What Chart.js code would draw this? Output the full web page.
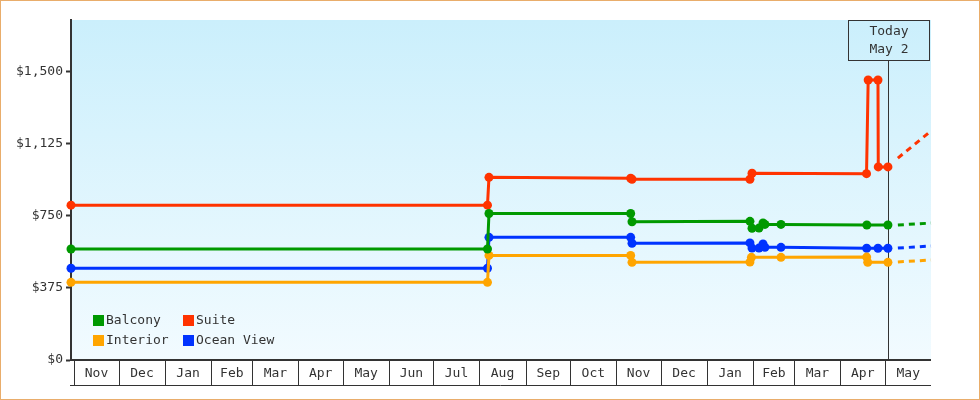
<!DOCTYPE html>
<html>
<head>
<meta charset="utf-8">
<title>Cruise cabin prices</title>
<script src="https://cdn.jsdelivr.net/npm/chart.js@4.4.1/dist/chart.umd.min.js"></script>
<style>
  html, body { margin: 0; padding: 0; background: #fff; }
  canvas { display: block; }
</style>
</head>
<body>
<canvas id="priceChart" width="980" height="400"></canvas>
<script>
// x values are days counted from Nov 1 of the first year
const monthLabels = ['Nov', 'Dec', 'Jan', 'Feb', 'Mar', 'Apr', 'May', 'Jun', 'Jul', 'Aug',
  'Sep', 'Oct', 'Nov', 'Dec', 'Jan', 'Feb', 'Mar', 'Apr', 'May'];
const monthLengths = [30, 31, 31, 28, 31, 30, 31, 30, 31, 31, 30, 31, 30, 31, 31, 28, 31, 30, 31];
const yTicks = [0, 375, 750, 1125, 1500];
const todayDay = 548;
const todayText = ['Today', 'May 2'];

const balconyDays   = [-2, 278.4, 279.4, 374.8, 375.7, 455.1, 456.5, 461.2, 463.9, 465.2, 476, 533.8, 548];
const balconyPrices = [577, 577, 762, 762, 719, 721, 685, 686, 713, 705, 705, 702, 702];

const suiteDays   = [-2, 278.4, 279.4, 374.8, 375.7, 455.1, 456.5, 533.6, 534.7, 541.3, 541.5, 548];
const suitePrices = [805, 805, 950, 945, 940, 940, 971, 969, 1456, 1456, 1004, 1004];

const interiorDays   = [-2, 278.4, 279.4, 374.8, 375.7, 455.1, 456.1, 476, 533.7, 534.4, 548];
const interiorPrices = [404, 404, 544, 544, 508, 509, 534, 534, 535, 508, 508];

const oceanDays   = [-2, 278.4, 279.4, 374.8, 375.7, 455.1, 456.5, 461.2, 463.9, 465.2, 476, 533.7, 541.3, 548];
const oceanPrices = [477, 477, 638, 638, 607, 609, 582, 582, 603, 586, 586, 581, 581, 581];

// dashed projection after today
const projDays      = [554.7, 577];
const balconyProj   = [702, 712];
const suiteProj     = [1050, 1191];
const interiorProj  = [510, 520];
const oceanProj     = [582, 593];

const FONT = "'DejaVu Sans Mono', monospace";
const INK = '#333';

function pts(days, vals) {
  return days.map((d, i) => ({ x: d, y: vals[i] }));
}

const series = [
  { label: 'Balcony', color: '#009900', days: balconyDays, prices: balconyPrices, proj: balconyProj },
  { label: 'Suite', color: '#ff3300', days: suiteDays, prices: suitePrices, proj: suiteProj },
  { label: 'Interior', color: '#ffa500', days: interiorDays, prices: interiorPrices, proj: interiorProj },
  { label: 'Ocean View', color: '#0033ff', days: oceanDays, prices: oceanPrices, proj: oceanProj }
];

const datasets = [];
series.forEach(s => {
  datasets.push({
    label: s.label,
    data: pts(s.days, s.prices),
    borderColor: s.color,
    backgroundColor: s.color,
    borderWidth: 3,
    pointRadius: 4.5,
    pointBorderWidth: 0,
    clip: false
  });
  datasets.push({
    label: s.label + ' projection',
    data: pts(projDays, s.proj),
    borderColor: s.color,
    borderWidth: 3,
    borderDash: [6, 5],
    pointRadius: 0,
    clip: false
  });
});

const decor = {
  id: 'decor',
  beforeDraw(chart) {
    const { ctx, chartArea: a } = chart;
    ctx.save();
    ctx.fillStyle = '#fff';
    ctx.fillRect(0, 0, chart.width, chart.height);
    const g = ctx.createLinearGradient(0, a.top, 0, a.bottom);
    g.addColorStop(0, '#cbeffc');
    g.addColorStop(1, '#f2fbff');
    ctx.fillStyle = g;
    ctx.fillRect(a.left, a.top, a.right - a.left, a.bottom - a.top);
    ctx.strokeStyle = '#e9ad6b';
    ctx.lineWidth = 1;
    ctx.strokeRect(0.5, 0.5, chart.width - 1, chart.height - 1);
    ctx.restore();
  },
  beforeDatasetsDraw(chart) {
    const { ctx, chartArea: a } = chart;
    const x = Math.round(chart.scales.x.getPixelForValue(todayDay)) + 0.5;
    ctx.save();
    ctx.strokeStyle = INK;
    ctx.lineWidth = 1;
    ctx.beginPath();
    ctx.moveTo(x, a.top + 40);
    ctx.lineTo(x, a.bottom);
    ctx.stroke();
    ctx.strokeRect(x - 40, a.top + 0.5, 81, 40);
    ctx.fillStyle = INK;
    ctx.font = '13px ' + FONT;
    ctx.textAlign = 'center';
    ctx.textBaseline = 'middle';
    ctx.fillText(todayText[0], x + 0.5, a.top + 12);
    ctx.fillText(todayText[1], x + 0.5, a.top + 30);
    ctx.restore();
  },
  afterDraw(chart) {
    const { ctx, chartArea: a } = chart;
    const xs = chart.scales.x;
    ctx.save();
    ctx.fillStyle = INK;
    ctx.fillRect(a.left - 1, a.bottom - 1, a.right - a.left + 1, 2);

    // month cells under the plot
    ctx.strokeStyle = INK;
    ctx.lineWidth = 1;
    ctx.beginPath();
    ctx.moveTo(a.left - 1, a.bottom + 25.5);
    ctx.lineTo(a.right, a.bottom + 25.5);
    ctx.stroke();
    ctx.font = '13px ' + FONT;
    ctx.textAlign = 'center';
    ctx.textBaseline = 'middle';
    let start = 0;
    monthLabels.forEach((m, i) => {
      const end = Math.min(start + monthLengths[i], xs.max);
      const x0 = Math.round(xs.getPixelForValue(start)) + 0.5;
      const x1 = xs.getPixelForValue(end);
      ctx.beginPath();
      ctx.moveTo(x0, a.bottom + 1);
      ctx.lineTo(x0, a.bottom + 25);
      ctx.stroke();
      ctx.fillText(m, (x0 + x1) / 2, a.bottom + 14);
      start += monthLengths[i];
    });

    // legend inside the plot, two columns
    ctx.textAlign = 'left';
    series.forEach((s, i) => {
      const lx = a.left + 22 + (i % 2) * 90;
      const ly = a.bottom - 45 + Math.floor(i / 2) * 20;
      ctx.fillStyle = s.color;
      ctx.fillRect(lx, ly, 11, 11);
      ctx.fillStyle = INK;
      ctx.fillText(s.label, lx + 13, ly + 6);
    });
    ctx.restore();
  }
};

new Chart(document.getElementById('priceChart'), {
  type: 'line',
  data: { datasets: datasets },
  plugins: [decor],
  options: {
    responsive: false,
    animation: false,
    devicePixelRatio: 1,
    layout: { padding: { top: 20, right: 49, bottom: 40, left: 0 } },
    elements: { line: { tension: 0 } },
    plugins: { legend: { display: false }, tooltip: { enabled: false } },
    scales: {
      x: { type: 'linear', display: false, min: -2, max: 577 },
      y: {
        min: 0,
        max: 1768,
        afterFit: s => { s.width = 71; },
        afterBuildTicks: s => { s.ticks = yTicks.map(v => ({ value: v })); },
        grid: { drawOnChartArea: false, drawTicks: true, tickLength: 5, tickWidth: 2, tickColor: INK },
        border: { display: true, color: INK, width: 2 },
        ticks: {
          color: INK,
          padding: 3,
          font: { family: FONT, size: 13 },
          callback: v => '$' + v.toLocaleString('en-US')
        }
      }
    }
  }
});
</script>
</body>
</html>
